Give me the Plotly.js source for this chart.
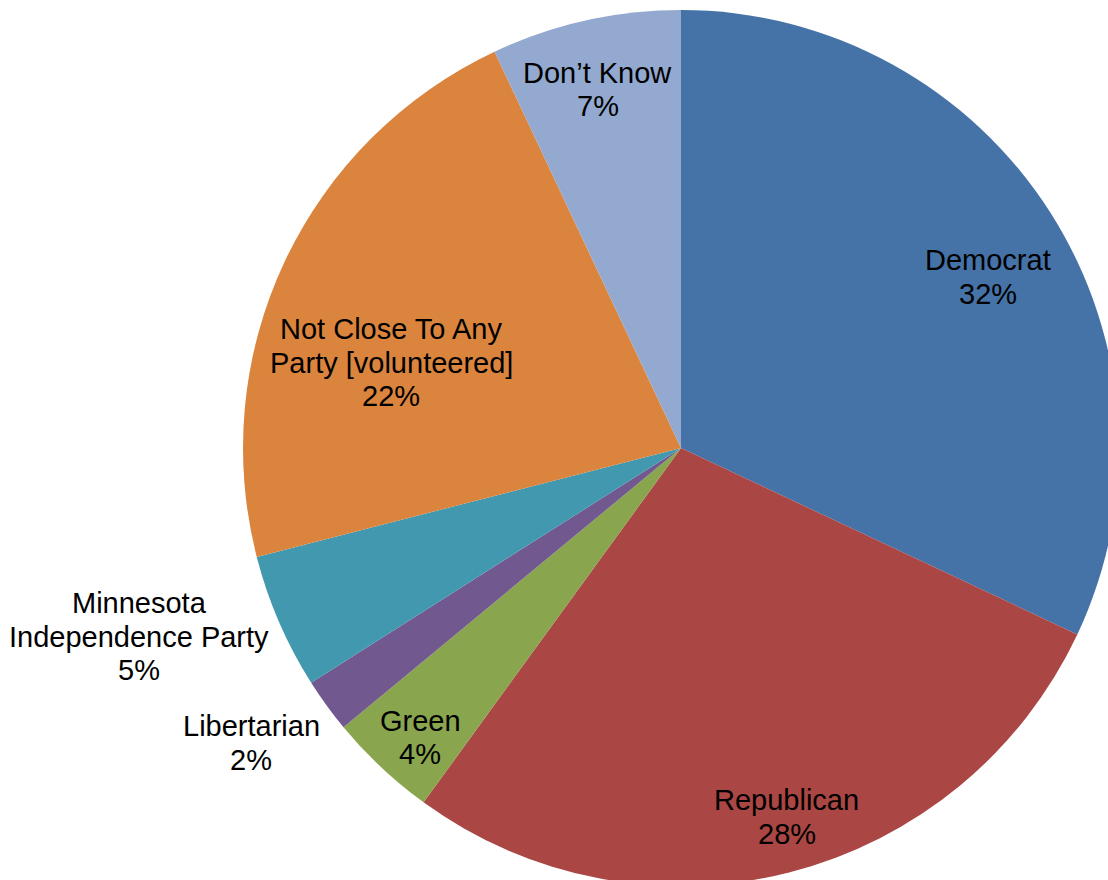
<!DOCTYPE html>
<html>
<head>
<meta charset="utf-8">
<script src="https://cdn.plot.ly/plotly-3.0.1.min.js"></script>
<style>
html, body { margin: 0; padding: 0; overflow: hidden; background: #fff; width: 1108px; height: 880px; }
#chart { width: 1120px; height: 886px; }
</style>
</head>
<body>
<div id="chart"></div>
<script>
// Data
const categories = ["Democrat", "Republican", "Green", "Libertarian", "Minnesota Independence Party", "Not Close To Any Party [volunteered]", "Don\u2019t Know"];
const labelLines = [["Democrat"], ["Republican"], ["Green"], ["Libertarian"], ["Minnesota", "Independence Party"], ["Not Close To Any", "Party [volunteered]"], ["Don\u2019t Know"]];
const values = [32, 28, 4, 2, 5, 22, 7];
const colors = ["#4572A7", "#AA4643", "#89A54E", "#71588F", "#4198AF", "#DB843D", "#93A9CF"];

// label placement style: radial factor and angle tweak (degrees)
const labelRadius = [0.802, 0.877, 0.89, 1.19, 1.31, 0.69, 0.84];
const labelAngleAdj = [3.3, -1.6, -1.2, 1.5, 4.2, -8.8, -0.5];

const W = 1120, H = 886;
const cx = 681, cy = 448, R = 438;
const LINE = 33.5;
const FONT = { family: "Liberation Sans, Arial, sans-serif", size: 29, color: "#000" };

const total = values.reduce((a, b) => a + b, 0);
let cum = 0;
const annotations = [];
values.forEach((v, i) => {
  const mid = (cum + v / 2) / total * 360 + labelAngleAdj[i];
  cum += v;
  const a = mid * Math.PI / 180;
  const px = cx + Math.sin(a) * R * labelRadius[i];
  const py = cy - Math.cos(a) * R * labelRadius[i];
  const lines = labelLines[i].concat([Math.round(v / total * 100) + "%"]);
  const n = lines.length;
  lines.forEach((t, j) => {
    annotations.push({
      x: px / W, y: 1 - py / H, xref: "paper", yref: "paper",
      xanchor: "center", yanchor: "middle", showarrow: false,
      yshift: ((n - 1) / 2 - j) * LINE,
      text: t, font: FONT, align: "center"
    });
  });
});

const trace = {
  type: "pie",
  labels: categories,
  values: values,
  sort: false,
  direction: "clockwise",
  rotation: 0,
  textinfo: "none",
  hoverinfo: "label+percent",
  marker: { colors: colors, line: { width: 0 } },
  domain: { x: [242 / W, 1], y: [0, 876 / H] }
};

Plotly.newPlot("chart", [trace], {
  width: W, height: H,
  margin: { l: 0, r: 0, t: 0, b: 0 },
  showlegend: false,
  paper_bgcolor: "#fff",
  annotations: annotations
}, { staticPlot: true });
</script>
</body>
</html>
